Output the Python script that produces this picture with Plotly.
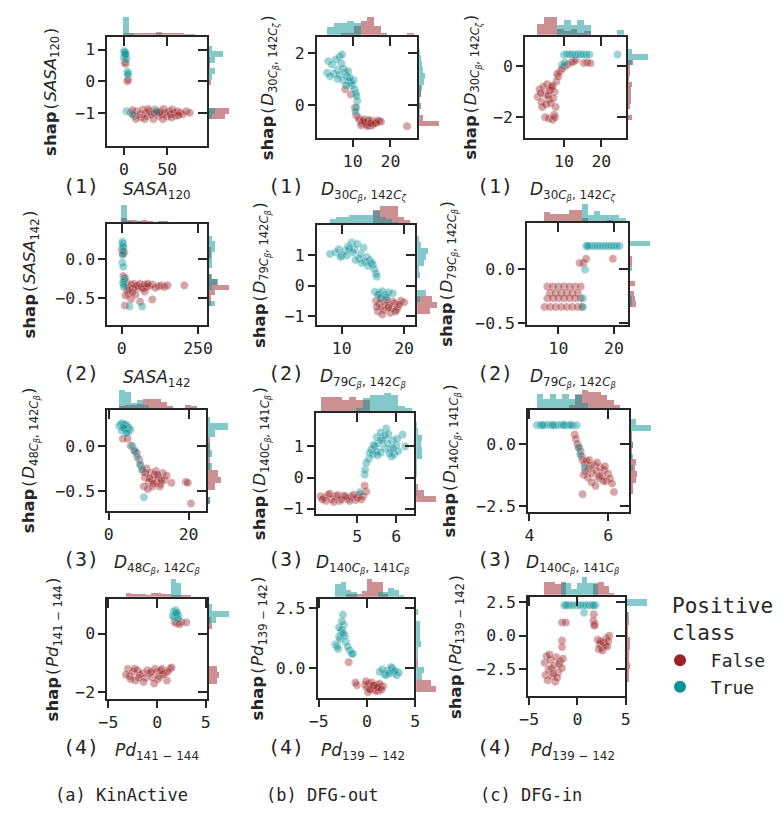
import plotly.graph_objects as go

W, H = 782, 817          # reference picture size
PAGE_PAD = 8             # default body margin of the html page
FW, FH = W - PAGE_PAD, H - PAGE_PAD
RED = "#9b2226"
TEAL = "#0a9396"
INK = "#262626"
MONO = "DejaVu Sans Mono"
SANS = "DejaVu Sans"

# ------------------------------------------------------------------ data
# (feature value, shap value) pairs
a1_false = [(1,0.6),(2,0.55),(5,0.05),(4,0.0),(8,-1.0),(12,-1.1),(15,-0.95),(18,-1.05),(20,-1.15),(22,-0.9),(25,-1.0),(27,-1.1),(30,-0.95),(32,-1.05),(34,-1.2),(36,-0.9),(38,-1.0),(40,-1.1),(42,-0.95),(44,-1.05),(46,-0.88),(48,-1.0),(50,-1.12),(52,-0.95),(54,-1.05),(56,-0.9),(58,-1.0),(60,-1.1),(62,-0.95),(65,-1.0),(68,-1.05),(72,-0.95),(76,-1.0),(14,-1.2),(24,-1.2),(45,-1.2),(28,-0.88),(35,-1.0),(55,-1.15),(10,-0.92),(63,-1.08),(41,-1.0)]
a1_true = [(0,0.95),(0.5,0.9),(1,0.85),(2,0.8),(0,0.75),(1.5,0.92),(3,0.7),(2,0.86),(4,0.3),(5,0.25),(4.5,0.2),(3,-0.95),(10,-1.05),(38,-0.95)]

b1_false = [(8.0,0.6),(9.5,0.4),(10.6,-0.1),(10.9,-0.4),(11.5,-0.5),(11.9,-0.6),(12.5,-0.7),(13.0,-0.55),(13.5,-0.75),(14.0,-0.65),(14.5,-0.8),(15.0,-0.6),(15.5,-0.72),(16.0,-0.68),(16.5,-0.6),(17.0,-0.62),(17.5,-0.65),(12.2,-0.78),(13.2,-0.68),(14.2,-0.58),(15.2,-0.78),(16.2,-0.7),(12.8,-0.62),(13.8,-0.82),(14.8,-0.7),(24.4,-0.82)]
b1_true = [(3.5,1.68),(3.2,1.24),(4.5,1.55),(5.5,1.75),(6.5,1.85),(7.2,1.94),(7.0,1.6),(6.0,1.35),(5.0,1.2),(4.0,1.1),(6.5,1.15),(7.5,1.4),(8.0,1.25),(8.5,1.1),(7.5,0.95),(8.8,1.3),(9.0,0.9),(9.5,0.85),(9.8,0.75),(10.2,0.95),(10.5,0.6),(10.8,0.45),(11.0,0.34),(11.2,0.15),(11.0,-0.1),(10.7,-0.25),(6.0,1.0),(8.2,0.75),(9.2,1.05)]

c1_false = [(3.0,-1.2),(3.5,-0.9),(4.0,-1.4),(4.5,-0.8),(5.0,-1.1),(5.5,-0.7),(6.0,-1.3),(6.5,-0.9),(7.0,-0.75),(7.5,-1.0),(8.0,-0.6),(4.2,-1.6),(5.2,-1.5),(6.2,-0.95),(7.2,-1.25),(3.8,-1.05),(5.8,-1.15),(6.8,-0.8),(7.8,-1.6),(7.4,-1.9),(5.0,-2.0),(6.0,-2.05),(7.0,-2.1),(7.6,-2.0),(8.5,-0.4),(9.0,-0.2),(9.5,-0.1),(10.2,0.0),(11.0,0.07),(12.0,0.15),(12.6,0.19),(13.2,0.25),(15.3,0.13),(16.2,0.15),(17.1,0.12),(6.5,-1.45),(8.2,-0.3)]
c1_true = [(10,0.45),(10.8,0.48),(11.5,0.46),(12.2,0.47),(13,0.45),(13.8,0.48),(14.5,0.46),(15.2,0.47),(16,0.45),(16.8,0.46),(24.3,0.46),(9.5,0.05),(10.2,0.15)]

a2_false = [(0,0.12),(8,0.08),(10,-0.25),(15,-0.3),(20,-0.35),(25,-0.38),(30,-0.33),(35,-0.38),(40,-0.32),(45,-0.36),(50,-0.34),(55,-0.37),(60,-0.32),(65,-0.36),(70,-0.38),(75,-0.33),(80,-0.36),(90,-0.35),(100,-0.33),(110,-0.37),(120,-0.35),(130,-0.34),(140,-0.36),(150,-0.34),(205,-0.34),(22,-0.45),(30,-0.52),(45,-0.46),(60,-0.55),(75,-0.42),(100,-0.52),(10,-0.6),(12,-0.47),(18,-0.4),(35,-0.43),(85,-0.32),(5,-0.22),(3,0.07)]
a2_true = [(2,0.22),(4,0.2),(3,0.17),(6,0.15),(5,0.1),(3,0.05),(2,-0.05),(5,-0.1),(9,-0.25),(8,-0.28),(4,-0.3),(6,-0.33),(7,-0.36),(25,-0.61),(67,-0.61)]

b2_false = [(15.5,-0.5),(16,-0.6),(16.5,-0.7),(17,-0.55),(17.5,-0.65),(18,-0.75),(18.5,-0.6),(19,-0.7),(19.5,-0.5),(20,-0.55),(15.8,-0.85),(16.8,-0.8),(17.8,-0.9),(18.8,-0.8),(16.2,-0.45),(17.2,-0.48),(18.2,-0.52),(16.5,-0.95),(17.5,-0.72),(19.2,-0.62),(15.6,-0.7),(18.6,-0.85)]
b2_true = [(8.1,1.05),(9,1.1),(9.5,1.2),(10,1.0),(10.5,1.15),(11,1.3),(11.6,1.43),(12,1.2),(12.5,1.38),(13,1.05),(13.5,1.25),(14,0.95),(14.5,0.85),(15,0.7),(15.2,0.55),(15.5,0.4),(15.6,0.3),(9.8,0.95),(10.8,1.0),(11.8,1.1),(12.8,0.9),(13.8,0.8),(14.8,0.75),(12.2,0.85),(13.2,0.75),(14.2,0.65),(11.2,1.22),(15.3,-0.2),(16,-0.25),(16.5,-0.18),(17,-0.3),(17.5,-0.22),(18.2,-0.25),(16.3,-0.4),(17.2,-0.38),(15.8,-0.3)]

c2_false = [(8,-0.16),(9,-0.16),(10,-0.16),(11,-0.16),(12,-0.16),(13,-0.16),(14,-0.16),(8.5,-0.22),(9.5,-0.22),(10.5,-0.22),(11.5,-0.22),(12.5,-0.22),(13.5,-0.22),(8,-0.27),(9,-0.27),(10,-0.27),(11,-0.27),(12,-0.27),(13,-0.27),(14,-0.27),(7.5,-0.35),(8.5,-0.35),(9.5,-0.35),(10.5,-0.35),(11.5,-0.35),(12.5,-0.35),(13.5,-0.35),(14.2,-0.35),(13.8,0.06),(14.5,0.06),(15,0.1),(19.8,0.1)]
c2_true = [(15,0.22),(15.5,0.22),(16,0.22),(16.5,0.22),(17,0.22),(17.5,0.22),(18,0.22),(18.5,0.22),(19,0.22),(19.5,0.22),(20,0.22),(20.5,0.22),(21,0.22),(14.8,0.0),(14.4,-0.27),(14.4,-0.35),(15.2,0.22)]

a3_false = [(3.5,0.08),(4.7,0.08),(5.5,0.0),(6.4,-0.05),(7.0,-0.08),(7.6,-0.15),(8.0,-0.22),(8.5,-0.28),(9.0,-0.35),(9.5,-0.25),(10,-0.4),(10.5,-0.3),(11,-0.45),(11.5,-0.32),(12,-0.4),(12.5,-0.35),(13,-0.42),(13.5,-0.3),(14,-0.38),(14.5,-0.33),(8.8,-0.45),(9.8,-0.48),(10.8,-0.38),(11.8,-0.28),(12.8,-0.45),(9.2,-0.3),(10.2,-0.36),(11.2,-0.42),(12.2,-0.32),(13.2,-0.38),(15.7,-0.41),(19.3,-0.4),(19.8,-0.41),(20.6,-0.64)]
a3_true = [(2.6,0.22),(3.0,0.24),(3.4,0.25),(3.8,0.23),(4.2,0.24),(4.6,0.22),(5.0,0.2),(5.4,0.18),(3.2,0.17),(4.0,0.19),(4.8,0.15),(3.6,0.2),(4.4,0.14),(5.9,0.0),(6.5,-0.06),(7.1,-0.12),(7.8,-0.2),(8.4,-0.26),(8.8,-0.57)]

b3_false = [(4.06,-0.6),(4.15,-0.65),(4.25,-0.55),(4.35,-0.7),(4.45,-0.6),(4.55,-0.75),(4.65,-0.58),(4.75,-0.68),(4.85,-0.62),(4.95,-0.72),(5.05,-0.55),(5.15,-0.6),(5.23,-0.45),(4.2,-0.75),(4.4,-0.78),(4.6,-0.7),(4.8,-0.75),(5.0,-0.65),(4.3,-0.52),(4.5,-0.56),(4.7,-0.6),(4.9,-0.55),(5.1,-0.7),(5.19,-0.26),(4.1,-0.7)]
b3_true = [(5.07,-0.47),(5.19,0.1),(5.2,0.25),(5.23,0.47),(5.3,0.6),(5.32,0.79),(5.36,0.9),(5.4,0.75),(5.45,1.0),(5.5,0.85),(5.55,1.1),(5.6,0.8),(5.65,1.25),(5.7,0.95),(5.74,1.58),(5.8,1.4),(5.85,0.9),(5.9,1.2),(5.95,0.75),(6.0,1.05),(6.05,0.85),(6.16,1.38),(6.23,1.0),(5.42,1.05),(5.52,0.72),(5.62,1.2),(5.72,1.35),(5.82,0.78),(5.92,0.95),(5.5,1.3),(5.6,1.45),(5.78,1.1),(5.88,0.68),(6.02,1.25)]

c3_false = [(5.15,0.38),(5.18,0.2),(5.22,0.0),(5.26,-0.14),(5.3,-0.3),(5.33,-0.5),(5.35,-0.65),(5.4,-0.8),(5.45,-0.7),(5.5,-1.0),(5.55,-0.9),(5.6,-1.2),(5.65,-0.85),(5.7,-1.1),(5.75,-1.4),(5.8,-0.95),(5.85,-1.3),(5.9,-1.05),(5.95,-1.5),(6.0,-1.2),(6.05,-1.4),(6.1,-1.6),(5.38,-1.25),(5.48,-1.35),(5.58,-1.55),(5.68,-1.7),(5.78,-1.3),(5.88,-1.5),(5.35,-2.03),(6.15,-1.94),(5.42,-1.1),(5.52,-0.65),(5.72,-0.75),(5.92,-0.9)]
c3_true = [(4.19,0.76),(4.28,0.76),(4.37,0.75),(4.46,0.77),(4.55,0.76),(4.64,0.75),(4.73,0.76),(4.82,0.77),(4.91,0.76),(5.0,0.75),(5.1,0.74),(5.2,0.75),(4.33,0.76),(4.6,0.76),(4.87,0.76),(5.05,0.77),(5.25,-0.16),(5.29,-0.43),(5.4,-0.96)]

a4_false = [(2.0,0.35),(2.5,0.4),(3.0,0.38),(1.8,0.4),(2.3,0.32),(-3.0,-1.2),(-2.8,-1.45),(-2.5,-1.3),(-2.2,-1.6),(-2.0,-1.25),(-1.8,-1.4),(-1.5,-1.35),(-1.2,-1.5),(-1.0,-1.25),(-0.8,-1.35),(-0.5,-1.5),(-0.2,-1.2),(0.0,-1.3),(0.2,-1.45),(0.5,-1.2),(0.8,-1.35),(1.0,-1.6),(1.3,-1.2),(1.5,-1.15),(-2.7,-1.55),(-2.3,-1.2),(-1.9,-1.5),(-1.4,-1.65),(-0.6,-1.3),(0.1,-1.55),(0.6,-1.4),(1.1,-1.3),(-3.2,-1.4),(-0.3,-1.7),(0.4,-1.25)]
a4_true = [(1.7,0.75),(1.9,0.8),(2.1,0.7),(2.2,0.6),(1.8,0.55),(2.0,0.65),(1.6,0.6),(2.15,0.5),(1.95,0.72)]

b4_false = [(-1.9,0.25),(-1.05,-0.71),(-1.2,-0.6),(-0.2,-0.7),(0.0,-0.8),(0.2,-0.65),(0.4,-0.9),(0.6,-0.75),(0.8,-0.85),(1.0,-0.7),(1.2,-0.95),(1.4,-0.8),(1.67,-0.75),(0.1,-1.0),(0.5,-0.6),(0.9,-0.95),(1.3,-0.65),(0.3,-0.88),(0.7,-0.72),(1.1,-0.8),(-0.1,-0.55),(1.5,-0.9)]
b4_true = [(-3.3,1.0),(-3.1,0.9),(-2.9,1.3),(-2.7,1.5),(-2.5,2.23),(-2.4,1.8),(-2.6,1.6),(-2.8,1.2),(-3.0,0.8),(-2.2,1.1),(-2.0,0.9),(-1.8,0.75),(-1.6,0.6),(-2.3,1.35),(-2.9,1.7),(-2.6,1.95),(-2.45,1.45),(-1.46,0.6),(1.3,-0.15),(1.8,-0.25),(2.2,-0.1),(2.5,0.05),(2.8,-0.2),(3.1,-0.3),(3.3,-0.18),(2.0,-0.3),(2.6,0.0),(1.6,-0.05),(2.9,-0.1),(2.3,-0.22)]

c4_false = [(-1.6,0.98),(-1.2,0.98),(-1.6,-0.36),(-1.6,-0.84),(1.7,1.58),(1.65,1.1),(1.8,0.85),(1.75,0.73),(2.1,-0.3),(2.3,-0.6),(2.5,-0.9),(2.7,-0.5),(3.0,-0.2),(3.3,0.0),(2.2,-1.0),(2.6,-1.1),(2.9,-0.7),(3.2,-0.4),(2.4,-0.4),(3.1,-0.8),(-3.4,-2.0),(-3.2,-1.5),(-3.0,-2.5),(-2.8,-1.8),(-2.6,-3.0),(-2.4,-2.2),(-2.2,-1.6),(-2.0,-2.7),(-1.8,-1.9),(-3.3,-2.9),(-3.1,-3.3),(-2.7,-2.4),(-2.3,-3.4),(-1.9,-2.1),(-2.9,-1.4),(-2.5,-2.8),(-2.1,-3.1),(-1.5,-1.7),(-1.6,-2.4)]
c4_true = [(-1.37,2.25),(-1.0,2.25),(-0.7,2.25),(-0.4,2.25),(0.0,2.25),(0.3,2.25),(0.6,2.25),(0.9,2.25),(1.2,2.25),(1.5,2.25),(1.88,2.25),(0.69,1.7),(-1.2,2.25),(1.7,2.25)]

# tick values and tick labels
a1_xt = [0, 50];        a1_xl = ["0", "50"]
a1_yt = [-1, 0, 1];     a1_yl = ["−1", "0", "1"]
b1_xt = [10, 20];       b1_xl = ["10", "20"]
b1_yt = [0, 2];         b1_yl = ["0", "2"]
c1_xt = [10, 20];       c1_xl = ["10", "20"]
c1_yt = [-2, 0];        c1_yl = ["−2", "0"]
a2_xt = [0, 250];       a2_xl = ["0", "250"]
a2_yt = [-0.5, 0.0];    a2_yl = ["−0.5", "0.0"]
b2_xt = [10, 20];       b2_xl = ["10", "20"]
b2_yt = [-1, 0, 1];     b2_yl = ["−1", "0", "1"]
c2_xt = [10, 20];       c2_xl = ["10", "20"]
c2_yt = [-0.5, 0.0];    c2_yl = ["−0.5", "0.0"]
a3_xt = [0, 20];        a3_xl = ["0", "20"]
a3_yt = [-0.5, 0.0];    a3_yl = ["−0.5", "0.0"]
b3_xt = [5, 6];         b3_xl = ["5", "6"]
b3_yt = [-1, 0, 1];     b3_yl = ["−1", "0", "1"]
c3_xt = [4, 6];         c3_xl = ["4", "6"]
c3_yt = [-2.5, 0.0];    c3_yl = ["−2.5", "0.0"]
a4_xt = [-5, 0, 5];     a4_xl = ["−5", "0", "5"]
a4_yt = [-2, 0];        a4_yl = ["−2", "0"]
b4_xt = [-5, 0, 5];     b4_xl = ["−5", "0", "5"]
b4_yt = [0.0, 2.5];     b4_yl = ["0.0", "2.5"]
c4_xt = [-5, 0, 5];     c4_xl = ["−5", "0", "5"]
c4_yt = [-2.5, 0.0, 2.5]; c4_yl = ["−2.5", "0.0", "2.5"]

# feature labels
F_SASA120 = "<i>SASA</i><sub>120</sub>"
F_SASA142 = "<i>SASA</i><sub>142</sub>"
F_D30 = "<i>D</i><sub>30<i>C</i><sub><i>β</i></sub>, 142<i>C</i><sub><i>ζ</i></sub></sub>"
F_D79 = "<i>D</i><sub>79<i>C</i><sub><i>β</i></sub>, 142<i>C</i><sub><i>β</i></sub></sub>"
F_D48 = "<i>D</i><sub>48<i>C</i><sub><i>β</i></sub>, 142<i>C</i><sub><i>β</i></sub></sub>"
F_D140 = "<i>D</i><sub>140<i>C</i><sub><i>β</i></sub>, 141<i>C</i><sub><i>β</i></sub></sub>"
F_PD141 = "<i>Pd</i><sub>141 − 144</sub>"
F_PD139 = "<i>Pd</i><sub>139 − 142</sub>"

COLUMN_TITLES = ["(a) KinActive", "(b) DFG-out", "(c) DFG-in"]
ROW_TAGS = ["(1)", "(2)", "(3)", "(4)"]

# --------------------------------------------------------------- layout
# panel: data, ticks, label, box in px (x0, x1, y0, y1), axis ranges, ylabel x px
PANELS = [
    dict(f=a1_false, t=a1_true, xt=a1_xt, xl=a1_xl, yt=a1_yt, yl=a1_yl, lab=F_SASA120,
         box=(100, 203, 33, 146), xr=(-19, 98), yr=(-2.06, 1.47), ylx=43, row=0, col=0),
    dict(f=b1_false, t=b1_true, xt=b1_xt, xl=b1_xl, yt=b1_yt, yl=b1_yl, lab=F_D30,
         box=(313, 417, 33, 138), xr=(0.5, 27.6), yr=(-1.29, 2.70), ylx=265, row=0, col=1),
    dict(f=c1_false, t=c1_true, xt=c1_xt, xl=c1_xl, yt=c1_yt, yl=c1_yl, lab=F_D30,
         box=(525, 629, 33, 138), xr=(-0.3, 27.0), yr=(-2.83, 1.24), ylx=471, row=0, col=2),
    dict(f=a2_false, t=a2_true, xt=a2_xt, xl=a2_xl, yt=a2_yt, yl=a2_yl, lab=F_SASA142,
         box=(100, 203, 223, 327), xr=(-47, 285), yr=(-0.85, 0.47), ylx=22, row=1, col=0),
    dict(f=b2_false, t=b2_true, xt=b2_xt, xl=b2_xl, yt=b2_yt, yl=b2_yl, lab=F_D79,
         box=(313, 415, 224, 327), xr=(6.0, 22.1), yr=(-1.30, 2.06), ylx=256, row=1, col=1),
    dict(f=c2_false, t=c2_true, xt=c2_xt, xl=c2_xl, yt=c2_yt, yl=c2_yl, lab=F_D79,
         box=(527, 631, 222, 327), xr=(4.4, 22.8), yr=(-0.52, 0.45), ylx=447, row=1, col=2),
    dict(f=a3_false, t=a3_true, xt=a3_xt, xl=a3_xl, yt=a3_yt, yl=a3_yl, lab=F_D48,
         box=(100, 202, 411, 515), xr=(-0.34, 24.8), yr=(-0.72, 0.42), ylx=22, row=2, col=0),
    dict(f=b3_false, t=b3_true, xt=b3_xt, xl=b3_xl, yt=b3_yt, yl=b3_yl, lab=F_D140,
         box=(312, 414, 414, 518), xr=(3.94, 6.51), yr=(-1.16, 2.14), ylx=257, row=2, col=1),
    dict(f=c3_false, t=c3_true, xt=c3_xt, xl=c3_xl, yt=c3_yt, yl=c3_yl, lab=F_D140,
         box=(528, 632, 411, 516), xr=(3.97, 6.57), yr=(-2.74, 1.45), ylx=450, row=2, col=2),
    dict(f=a4_false, t=a4_true, xt=a4_xt, xl=a4_xl, yt=a4_yt, yl=a4_yl, lab=F_PD141,
         box=(100, 203, 602, 706), xr=(-5.1, 5.3), yr=(-2.24, 1.26), ylx=45, row=3, col=0),
    dict(f=b4_false, t=b4_true, xt=b4_xt, xl=b4_xl, yt=b4_yt, yl=b4_yl, lab=F_PD139,
         box=(314, 414, 602, 705), xr=(-5.1, 5.1), yr=(-1.26, 2.98), ylx=254, row=3, col=1),
    dict(f=c4_false, t=c4_true, xt=c4_xt, xl=c4_xl, yt=c4_yt, yl=c4_yl, lab=F_PD139,
         box=(528, 628, 600, 703), xr=(-5.1, 5.1), yr=(-4.49, 3.03), ylx=455, row=3, col=2),
]

ROW_LABEL_Y = [189, 379, 567, 757]
TAG_X = [73, 282, 494]
XLABEL_X = [150, 360, 573]
COL_TITLE_X = [114, 319, 531]
COL_TITLE_Y = 803
TOP_H = 19
RIGHT_W = 21
NBINS = 12


def px(p):
    return (p - PAGE_PAD) / FW


def py(p):
    return 1 - (p - PAGE_PAD) / FH


def axname(kind, n):
    return f"{kind}axis" if n == 1 else f"{kind}axis{n}"


def axref(kind, n):
    return kind if n == 1 else f"{kind}{n}"


def binspec(a, b):
    lo = min(min(a), min(b))
    hi = max(max(a), max(b))
    size = (hi - lo) / NBINS
    return dict(start=lo, end=hi + size * 0.001, size=size)


fig = go.Figure()
layout = {}
annotations = []

tickfont = dict(family=MONO, size=16.5, color=INK)
line_kw = dict(showline=True, linecolor=INK, linewidth=2, showgrid=False, zeroline=False)

for i, p in enumerate(PANELS):
    m, tp, rt = 3 * i + 1, 3 * i + 2, 3 * i + 3
    x0, x1, y0, y1 = p["box"]
    fx = [q[0] for q in p["f"]]
    fy = [q[1] for q in p["f"]]
    tx = [q[0] for q in p["t"]]
    ty = [q[1] for q in p["t"]]

    # main axes
    layout[axname("x", m)] = dict(domain=[px(x0), px(x1)], range=list(p["xr"]), anchor=axref("y", m),
                                  tickvals=p["xt"], ticktext=p["xl"], ticks="outside", ticklen=7,
                                  tickwidth=1.5, tickcolor=INK, tickfont=tickfont, **line_kw)
    layout[axname("y", m)] = dict(domain=[py(y1), py(y0)], range=list(p["yr"]), anchor=axref("x", m),
                                  tickvals=p["yt"], ticktext=p["yl"], ticks="outside", ticklen=7,
                                  tickwidth=1.5, tickcolor=INK, tickfont=tickfont, **line_kw)
    # top marginal
    layout[axname("x", tp)] = dict(domain=[px(x0), px(x1)], range=list(p["xr"]), anchor=axref("y", tp),
                                   tickvals=p["xt"], showticklabels=False, ticks="outside", ticklen=9,
                                   tickwidth=1.5, tickcolor=INK, side="bottom", **line_kw)
    layout[axname("y", tp)] = dict(domain=[py(y0), py(y0 - TOP_H)], anchor=axref("x", tp),
                                   visible=False, rangemode="tozero")
    # right marginal
    layout[axname("x", rt)] = dict(domain=[px(x1), px(x1 + RIGHT_W)], anchor=axref("y", rt),
                                   visible=False, rangemode="tozero")
    layout[axname("y", rt)] = dict(domain=[py(y1), py(y0)], range=list(p["yr"]), anchor=axref("x", rt),
                                   tickvals=p["yt"], showticklabels=False, ticks="outside", ticklen=9,
                                   tickwidth=1.5, tickcolor=INK, side="left", **line_kw)

    xb = binspec(fx, tx)
    yb = binspec(fy, ty)
    for xs, ys, col in ((fx, fy, RED), (tx, ty, TEAL)):
        fig.add_trace(go.Histogram(x=xs, xbins=xb, histnorm="probability", xaxis=axref("x", tp),
                                   yaxis=axref("y", tp), marker=dict(color=col, line=dict(width=0)),
                                   opacity=0.5, showlegend=False, hoverinfo="skip"))
        fig.add_trace(go.Histogram(y=ys, ybins=yb, histnorm="probability", orientation="h",
                                   xaxis=axref("x", rt), yaxis=axref("y", rt),
                                   marker=dict(color=col, line=dict(width=0)),
                                   opacity=0.5, showlegend=False, hoverinfo="skip"))
    for xs, ys, col in ((fx, fy, RED), (tx, ty, TEAL)):
        fig.add_trace(go.Scatter(x=xs, y=ys, mode="markers", xaxis=axref("x", m), yaxis=axref("y", m),
                                 marker=dict(color=col, size=8.5, opacity=0.4,
                                             line=dict(color="white", width=0.6)),
                                 showlegend=False, hoverinfo="skip", cliponaxis=False))

    math = f'<span style="font-family:{SANS}">{p["lab"]}</span>'
    # y label
    annotations.append(dict(
        text=f'<span style="font-family:{SANS}"><b>shap</b></span>({math})',
        x=px(p["ylx"]), y=py((y0 + y1) / 2), xref="paper", yref="paper", textangle=-90,
        xanchor="center", yanchor="middle", showarrow=False,
        font=dict(family=MONO, size=16.5, color=INK)))
    # x label
    annotations.append(dict(
        text=p["lab"], x=px(XLABEL_X[p["col"]]), y=py(ROW_LABEL_Y[p["row"]] + 2), xref="paper",
        yref="paper", xanchor="center", yanchor="middle", showarrow=False,
        font=dict(family=SANS, size=17, color=INK)))
    # row tag
    annotations.append(dict(
        text=ROW_TAGS[p["row"]], x=px(TAG_X[p["col"]]), y=py(ROW_LABEL_Y[p["row"]] - 3), xref="paper",
        yref="paper", xanchor="center", yanchor="middle", showarrow=False,
        font=dict(family=MONO, size=20, color=INK)))

for c, t in enumerate(COLUMN_TITLES):
    annotations.append(dict(text=t, x=px(COL_TITLE_X[c]), y=py(COL_TITLE_Y), xref="paper", yref="paper",
                            xanchor="center", yanchor="middle", showarrow=False,
                            font=dict(family=MONO, size=17, color=INK)))

annotations.append(dict(text="Positive<br>class", x=px(672), y=py(597), xref="paper", yref="paper",
                        xanchor="left", yanchor="top", align="left", showarrow=False,
                        font=dict(family=MONO, size=21, color=INK)))

# legend entries
for name, col in (("False", RED), ("True", TEAL)):
    fig.add_trace(go.Scatter(x=[None], y=[None], mode="markers", name="\u00a0" + name,
                             marker=dict(color=col, size=12), xaxis="x", yaxis="y", showlegend=True))

fig.update_layout(
    width=FW, height=FH, margin=dict(l=0, r=0, t=0, b=0),
    paper_bgcolor="white", plot_bgcolor="rgba(0,0,0,0)",
    barmode="overlay", bargap=0, hovermode=False,
    annotations=annotations,
    legend=dict(x=px(662), y=py(648), xanchor="left", yanchor="top",
                font=dict(family=MONO, size=18, color=INK), bgcolor="rgba(0,0,0,0)",
                itemwidth=30, tracegroupgap=0),
    **layout,
)

fig.write_html("out.html")
